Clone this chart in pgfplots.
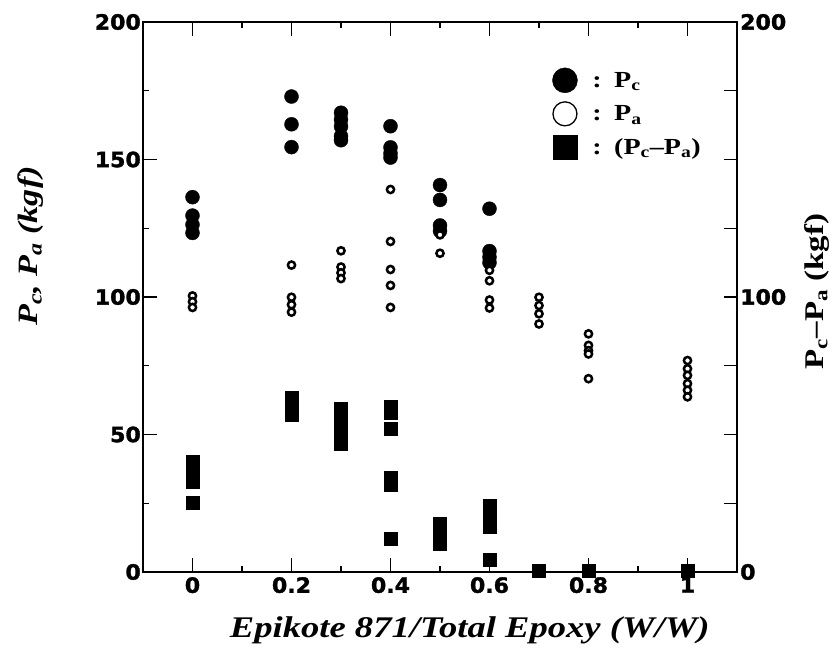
\documentclass[border=0pt]{standalone}
\usepackage{pgfplots}
\pgfplotsset{compat=1.18}
\usepackage{fontspec}
\setmainfont{Liberation Serif}
\newfontfamily\tickf{DejaVu Sans}[BoldFeatures={FakeBold=1.6, FakeStretch=1.05}]
\newfontfamily\labf{Liberation Serif}[FakeStretch=1.22]

\begin{document}
\begin{tikzpicture}
\pgfplotsset{
  common/.style={
    width=594pt, height=550pt, scale only axis,
    xmin=-0.1, xmax=1.1, ymin=0, ymax=200,
    tick align=inside,
    every tick/.style={black, line width=1.4pt},
    axis line style={line width=1.8pt},
    /pgf/number format/assume math mode=true,
    tick label style={font=\tickf\bfseries\fontsize{21}{24}\selectfont},
  }
}
\begin{axis}[common,
  xtick={0,0.2,0.4,0.6,0.8,1},
  minor xtick={0.1,0.3,0.5,0.7,0.9},
  xtick pos=both, xticklabel pos=lower,
  ytick={0,50,100,150,200},
  minor ytick={25,75,125,175},
  ytick pos=left,
  major tick length=14pt, minor tick length=6pt,
  yticklabel style={inner xsep=2pt},
  xticklabel style={inner ysep=5pt},
  xlabel={\labf\bfseries\itshape Epikote 871/Total Epoxy (W/W)},
  xlabel style={at={(axis description cs:0.55,-0.08)}, anchor=north, inner sep=0pt, font=\fontsize{30}{34}\selectfont},
  ylabel={\labf\bfseries\itshape P\textsubscript{c}, P\textsubscript{a} (kgf)},
  ylabel style={at={(axis description cs:-0.1886,0.593)}, anchor=center, inner sep=0pt, font=\fontsize{28}{32}\selectfont},
  legend style={at={(0.689,0.917)}, anchor=north west, draw=none, fill=none, inner sep=0pt, row sep=9pt,
    font=\labf\bfseries\fontsize{23}{25}\selectfont, cells={anchor=west}},
  clip=false,
]
\addplot[only marks, mark=*, mark size=7pt, mark options={fill=black, draw=black},
  legend image post style={mark size=12.5pt}] coordinates {
  (0,136.3)(0,129.6)(0,126.3)(0,123.3)
  (0.2,172.9)(0.2,162.8)(0.2,154.5)
  (0.3,167)(0.3,164.5)(0.3,162)(0.3,158.5)(0.3,157)
  (0.4,162.1)(0.4,154.4)(0.4,152.2)(0.4,150.7)
  (0.5,140.7)(0.5,135.3)(0.5,126)(0.5,124)
  (0.6,132.1)(0.6,116.7)(0.6,114.5)(0.6,112.5)
};
\addlegendentry{\hspace{13pt}:\hspace{3pt} P\textsubscript{c}}
\addplot[only marks, mark=*, mark size=3.6pt, line width=2.5pt, mark options={fill=white, draw=black},
  legend image post style={mark size=12pt, line width=1.3pt}] coordinates {
  (0,100.4)(0,98.3)(0,96.2)
  (0.2,111.6)(0.2,99.9)(0.2,97.2)(0.2,94.5)
  (0.3,116.8)(0.3,110.9)(0.3,108.8)(0.3,106.7)
  (0.4,139.1)(0.4,120.2)(0.4,110)(0.4,104.2)(0.4,96.2)
  (0.5,122.6)(0.5,115.9)
  (0.6,109.7)(0.6,105.9)(0.6,98.9)(0.6,96)
  (0.7,99.9)(0.7,96.9)(0.7,93.9)(0.7,90.2)
  (0.8,86.6)(0.8,82.4)(0.8,80.5)(0.8,79.3)(0.8,70.3)
  (1,76.9)(1,73.9)(1,71.5)(1,68.5)(1,66.1)(1,63.7)
};
\addlegendentry{\hspace{13pt}:\hspace{3pt} P\textsubscript{a}}
\addlegendimage{only marks, mark=square*, mark size=12pt, mark options={fill=black, draw=black}}
\addlegendentry{\hspace{13pt}:\hspace{3pt} (P\textsubscript{c}\textendash P\textsubscript{a})}
\end{axis}
\begin{axis}[common,
  axis x line=none,
  axis y line*=right,
  ytick pos=right, yticklabel pos=right,
  ytick={0,100,200},
  minor ytick={25,50,75,125,150,175},
  major tick length=13pt, minor tick length=13pt,
  yticklabel style={inner xsep=3pt},
  ylabel={\labf\bfseries P\textsubscript{c}\textendash P\textsubscript{a} (kgf)},
  ylabel style={at={(axis description cs:1.1347,0.51)}, anchor=center, inner sep=0pt, font=\fontsize{27}{30}\selectfont},
  clip=false,
]
\addplot[only marks, mark=square*, mark size=6.5pt, mark options={fill=black, draw=black}] coordinates {
  (0,40)(0,37.5)(0,35)(0,33)(0,25.2)
  (0.2,63.4)(0.2,61)(0.2,59)(0.2,57.2)
  (0.3,59.4)(0.3,56)(0.3,53)(0.3,50)(0.3,46.5)
  (0.4,60.1)(0.4,58)(0.4,52.2)(0.4,34.4)(0.4,31.9)(0.4,12.2)
  (0.5,17.4)(0.5,15)(0.5,12.5)(0.5,10.3)
  (0.6,24.1)(0.6,21.5)(0.6,19)(0.6,16.3)(0.6,4.6)
  (0.7,0.5)(0.8,0.5)(1,0.5)
};
\end{axis}
\pgfresetboundingbox
\useasboundingbox ([shift={(-143pt,-88pt)}]current axis.south west) rectangle ([shift={(98pt,22pt)}]current axis.north east);
\end{tikzpicture}
\end{document}
